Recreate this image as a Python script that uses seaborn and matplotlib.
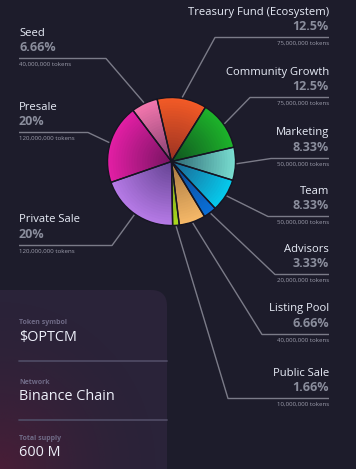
import numpy as np
import matplotlib
matplotlib.use('Agg')
import matplotlib.pyplot as plt
import seaborn as sns
from matplotlib.patches import FancyBboxPatch

sns.set_theme(style="dark")
plt.rcParams['font.family'] = ['Open Sans', 'DejaVu Sans']

# token allocation, clockwise from the top
names = ["Treasury Fund (Ecosystem)", "Community Growth", "Marketing", "Team",
         "Advisors", "Listing Pool", "Public Sale", "Private Sale", "Presale", "Seed"]
pct = [12.5, 12.5, 8.33, 8.33, 3.33, 6.66, 1.66, 20, 20, 6.66]
pct_labels = ["12.5%", "12.5%", "8.33%", "8.33%", "3.33%", "6.66%", "1.66%", "20%", "20%", "6.66%"]
tokens = [75000000, 75000000, 50000000, 50000000, 20000000, 40000000, 10000000,
          120000000, 120000000, 40000000]

outer_colors = ["#f25a26", "#1db22a", "#78dccf", "#06c9ec", "#0a6fd6",
                "#f5b868", "#a9d81e", "#b57ae6", "#e21ea4", "#f276ad"]
inner_colors = ["#9a3222", "#105420", "#2e6874", "#1c6290", "#0c4690",
                "#a87840", "#70921a", "#664494", "#781462", "#844070"]

# label layout
side = ["r", "r", "r", "r", "r", "r", "r", "l", "l", "l"]
label_y = [12, 72, 133, 191, 249, 309, 373, 220, 107, 33]
line_x = [215, 250, 271, 268, 275, 262, 228, 112, 88, 106]

card_keys = ["Token symbol", "Network", "Total supply"]
card_vals = ["$OPTCM", "Binance Chain", "600 M"]

bg = "#1d1c2b"
W, H = 356, 469
fig = plt.figure(figsize=(W / 100, H / 100), dpi=100, facecolor=bg)
ax = fig.add_axes([0, 0, 1, 1])
ax.set_facecolor(bg)

cx, cy, R = 171.5, 161.5, 64
start = -13  # degrees clockwise from up

# gradient pie: stacked layers, bright outside to dark inside
n_layers = 24
ramps = [sns.blend_palette([o, i], n_layers) for o, i in zip(outer_colors, inner_colors)]
for k in range(n_layers):
    r = R * (1 - k / n_layers)
    ax.pie(pct, radius=r, center=(cx, cy), startangle=start - 90, counterclock=True,
           colors=[ramps[j][k] for j in range(len(pct))], frame=True,
           wedgeprops=dict(linewidth=0, antialiased=True))
ax.pie(pct, radius=R, center=(cx, cy), startangle=start - 90, counterclock=True,
       colors=["none"] * len(pct), frame=True,
       wedgeprops=dict(linewidth=1.0, edgecolor="#161522", facecolor="none"))

# leader lines and labels
cum = np.cumsum(pct)
mid = start + 3.6 * (cum - np.array(pct) / 2)
line_col = "#7b7b88"
for j in range(len(pct)):
    phi = np.radians(mid[j])
    px, py = cx + (R + 1) * np.sin(phi), cy - (R + 1) * np.cos(phi)
    ly = label_y[j] + 25.5
    if side[j] == "r":
        xe, ha = 329, "right"
    else:
        xe, ha = 19, "left"
    ax.plot([xe, line_x[j], px], [ly, ly, py], color=line_col, lw=1.0, solid_capstyle="butt")
    ax.text(xe, label_y[j], names[j], color="#e8ecf7", fontsize=8.1, ha=ha, va="center")
    ax.text(xe, label_y[j] + 14.5, pct_labels[j], color="#8a8d9c", fontsize=9.0,
            fontweight="bold", ha=ha, va="center")
    ax.text(xe, label_y[j] + 31.5, f"{tokens[j]:,} tokens", color="#9c9cab",
            fontsize=4.4, ha=ha, va="center")

# info card with a rounded top right corner
card = FancyBboxPatch((-30, 290), 197, 220, boxstyle="round,pad=0,rounding_size=16",
                      facecolor="#2a2339", edgecolor="none", zorder=1)
ax.add_patch(card)
gx, gy = np.meshgrid(np.linspace(0, 1, 60), np.linspace(0, 1, 60))
glow = np.clip(1 - np.hypot(gx, gy) / 1.0, 0, 1) ** 1.8
img = np.zeros((60, 60, 4))
img[..., :3] = matplotlib.colors.to_rgb("#5e1a36")
img[..., 3] = glow * 0.6
im = ax.imshow(img, extent=(0, 167, 290, 469), origin="upper", zorder=2,
               interpolation="bilinear", aspect="auto")
im.set_clip_path(card)

key_y = [323, 382, 439]
for k in range(3):
    ax.text(19, key_y[k], card_keys[k], color="#6f6a86", fontsize=5.0,
            fontweight="bold", ha="left", va="center", zorder=3)
    ax.text(19, key_y[k] + 14, card_vals[k], color="#eef0fa", fontsize=10.4,
            ha="left", va="center", zorder=3)
for y in [361, 420]:
    ax.plot([19, 167], [y, y], color="#4e4963", lw=1.3, zorder=3)

ax.set_xlim(0, W)
ax.set_ylim(H, 0)
ax.set_aspect("auto")
ax.axis("off")
fig.savefig("out.png", dpi=100, facecolor=bg)
